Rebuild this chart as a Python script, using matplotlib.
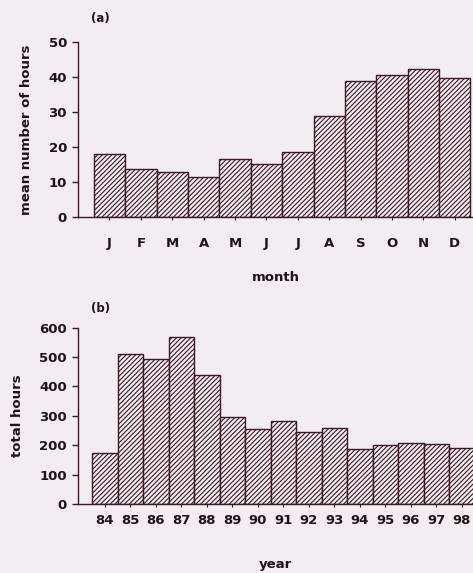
import matplotlib
matplotlib.use('Agg')
import matplotlib.pyplot as plt

# Месячные средние (часы)
months = ['J', 'F', 'M', 'A', 'M', 'J', 'J', 'A', 'S', 'O', 'N', 'D']
mean_hours = [18.2, 13.9, 12.9, 11.5, 16.6, 15.3, 18.7, 28.9, 39.1, 40.6, 42.4, 39.9]

# Годовые суммы (часы)
years = ['84', '85', '86', '87', '88', '89', '90', '91', '92', '93', '94', '95', '96', '97', '98']
total_hours = [175, 510, 494, 567, 438, 297, 254, 282, 245, 257, 187, 202, 206, 203, 189]

bg = '#f4ecf3'
ink = '#3a1a26'
txt = '#1c1418'

plt.rcParams['font.family'] = ['DejaVu Sans']
plt.rcParams['font.weight'] = 'bold'
plt.rcParams['axes.labelweight'] = 'bold'
plt.rcParams['font.size'] = 9
plt.rcParams['hatch.color'] = ink
plt.rcParams['hatch.linewidth'] = 0.8

fig = plt.figure(figsize=(4.73, 5.73), dpi=100, facecolor=bg)


def draw_bars(ax, labels, values, ylim, yticks, xlim, ylabel, xlabel, tag,
              xpad, lpad, ypad, tag_y):
    x = list(range(len(values)))
    ax.set_facecolor(bg)
    ax.bar(x, values, width=1.0, color=bg, edgecolor=ink, linewidth=1.0,
           hatch='///////', zorder=2)
    ax.set_xlim(*xlim)
    ax.set_ylim(*ylim)
    ax.set_yticks(yticks)
    ax.set_xticks(x)
    ax.set_xticklabels(labels)
    for s in ['top', 'right']:
        ax.spines[s].set_visible(False)
    for s in ['left', 'bottom']:
        ax.spines[s].set_color(ink)
        ax.spines[s].set_linewidth(1.0)
    ax.tick_params(axis='y', direction='out', length=4, width=1.0,
                   color=ink, labelcolor=txt, pad=4, labelsize=9.5)
    ax.tick_params(axis='x', direction='out', length=2.5, width=0.8,
                   color=ink, labelcolor=txt, pad=xpad, labelsize=9.5)
    for lab in ax.get_xticklabels() + ax.get_yticklabels():
        lab.set_fontweight('bold')
    ax.set_ylabel(ylabel, color=txt, fontsize=9.5, fontweight='bold',
                  labelpad=ypad)
    ax.set_xlabel(xlabel, color=txt, fontsize=9.5, fontweight='bold',
                  labelpad=lpad)
    ax.text(0.033, tag_y, tag, transform=ax.transAxes, color=txt,
            fontsize=8.5, fontweight='bold', ha='left', va='center')


ax1 = fig.add_axes([0.165, 0.621, 0.835, 0.305])
draw_bars(ax1, months, mean_hours, (0, 50), range(0, 51, 10), (-1.0, 11.58),
          'mean number of hours', 'month', '(a)', 12, 15, 11, 1.137)

ax2 = fig.add_axes([0.165, 0.1204, 0.835, 0.3077])
draw_bars(ax2, years, total_hours, (0, 600), range(0, 601, 100), (-1.05, 14.44),
          'total hours', 'year', '(b)', 5, 22, 11, 1.108)

fig.savefig('out.png', dpi=100, facecolor=bg)
